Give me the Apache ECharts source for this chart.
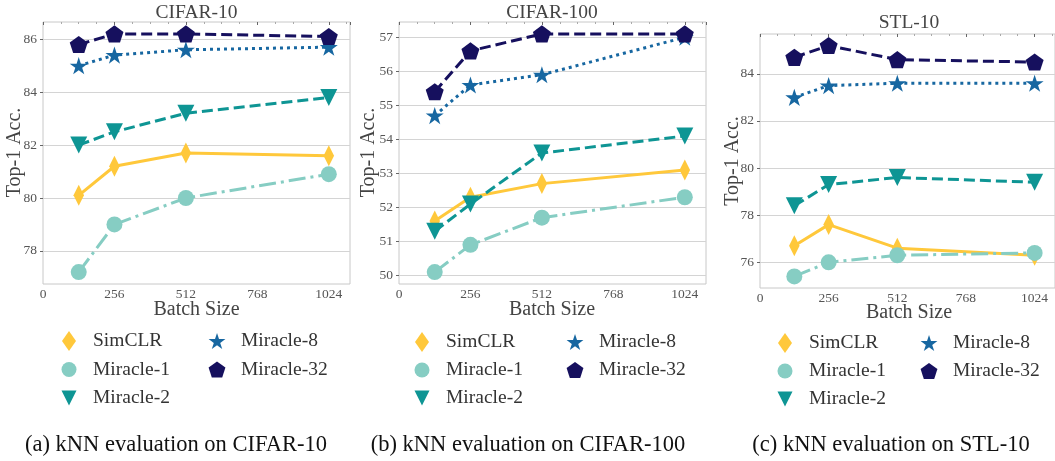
<!DOCTYPE html>
<html>
<head>
<meta charset="utf-8">
<script src="https://cdn.jsdelivr.net/npm/echarts@6/dist/echarts.min.js"></script>
<style>
html,body{margin:0;padding:0;background:#fff;}
#chart{width:1055px;height:461px;}
</style>
</head>
<body>
<div id="chart"></div>
<script>
// ---------- data ----------
const batchSizes = [128, 256, 512, 1024];
const xTickValues = [0, 256, 512, 768, 1024];
const seriesNames = ['SimCLR', 'Miracle-1', 'Miracle-2', 'Miracle-8', 'Miracle-32'];

// CIFAR-10
const c10SimCLR = [80.1, 81.2, 81.7, 81.6];
const c10Miracle1 = [77.2, 79.0, 80.0, 80.9];
const c10Miracle2 = [82.0, 82.5, 83.2, 83.8];
const c10Miracle8 = [85.0, 85.4, 85.6, 85.7];
const c10Miracle32 = [85.8, 86.2, 86.2, 86.1];
const c10YTicks = [78, 80, 82, 84, 86];

// CIFAR-100
const c100SimCLR = [51.6, 52.3, 52.7, 53.1];
const c100Miracle1 = [50.1, 50.9, 51.7, 52.3];
const c100Miracle2 = [51.3, 52.1, 53.6, 54.1];
const c100Miracle8 = [54.7, 55.6, 55.9, 57.0];
const c100Miracle32 = [55.4, 56.6, 57.1, 57.1];
const c100YTicks = [50, 51, 52, 53, 54, 55, 56, 57];

// STL-10
const stlSimCLR = [76.7, 77.6, 76.6, 76.3];
const stlMiracle1 = [75.4, 76.0, 76.3, 76.4];
const stlMiracle2 = [78.4, 79.3, 79.6, 79.4];
const stlMiracle8 = [83.0, 83.5, 83.6, 83.6];
const stlMiracle32 = [84.7, 85.2, 84.6, 84.5];
const stlYTicks = [76, 78, 80, 82, 84];

const panelTitles = ['CIFAR-10', 'CIFAR-100', 'STL-10'];
const captions = ['(a) kNN evaluation on CIFAR-10', '(b) kNN evaluation on CIFAR-100', '(c) kNN evaluation on STL-10'];
const xAxisName = 'Batch Size';
const yAxisName = 'Top-1 Acc.';

// ---------- styles ----------
const FONT = '"Liberation Serif", "Times New Roman", serif';
const diamondPath = 'path://M0,-10 L7,0 L0,10 L-7,0 Z';
const triDownPath = 'path://M-10,-10 L10,-10 L0,10 Z';
const starPath = 'path://M0,-10 L2.245,-3.09 L9.511,-3.09 L3.633,1.18 L5.878,8.09 L0,3.82 L-5.878,8.09 L-3.633,1.18 L-9.511,-3.09 L-2.245,-3.09 Z';
const pentagonPath = 'path://M0,-10 L9.511,-3.09 L5.878,8.09 L-5.878,8.09 L-9.511,-3.09 Z';

const seriesStyle = {
  'SimCLR':     {color: '#FFC83B', dash: 'solid',        symbol: diamondPath,  size: [15, 21], legendH: 20, legendW: 14},
  'Miracle-1':  {color: '#86CDC3', dash: [17, 5, 3, 5],  symbol: 'circle',     size: 16,       legendH: 15, legendW: 15},
  'Miracle-2':  {color: '#0E9594', dash: [11, 5],        symbol: triDownPath,  size: 17,       legendH: 15, legendW: 15},
  'Miracle-8':  {color: '#1767A1', dash: [3, 4],         symbol: starPath,     size: 18,       legendH: 16, legendW: 16.8},
  'Miracle-32': {color: '#16105E', dash: [11, 5],        symbol: pentagonPath, size: 18,       legendH: 16, legendW: 16.8}
};

const panels = [
  {values: [c10SimCLR, c10Miracle1, c10Miracle2, c10Miracle8, c10Miracle32], yTicks: c10YTicks,
   yMin: 76.75, yMax: 86.65, split: 5,
   grid: {left: 43, top: 22, width: 307, height: 262},
   titleXY: [196.5, 12.5], xNameXY: [196.5, 310], yNameXY: [14.5, 152.5], captionXY: [176, 445],
   legendCols: [69, 217], legendRows: [341, 369.5, 398]},
  {values: [c100SimCLR, c100Miracle1, c100Miracle2, c100Miracle8, c100Miracle32], yTicks: c100YTicks,
   yMin: 49.75, yMax: 57.45, split: 8,
   grid: {left: 399, top: 22, width: 307, height: 262},
   titleXY: [552, 12.5], xNameXY: [552, 310], yNameXY: [369, 152.5], captionXY: [528, 445],
   legendCols: [422, 575], legendRows: [342, 370, 398]},
  {values: [stlSimCLR, stlMiracle1, stlMiracle2, stlMiracle8, stlMiracle32], yTicks: stlYTicks,
   yMin: 74.91, yMax: 85.69, split: 5,
   grid: {left: 760, top: 34, width: 298.6, height: 254},
   titleXY: [909, 23.3], xNameXY: [909, 313], yNameXY: [733, 161], captionXY: [891, 445],
   legendCols: [785, 929], legendRows: [343, 371, 399]}
];

// legend placement: [column, row] per series
const legendSlots = [[0, 0], [0, 1], [0, 2], [1, 0], [1, 1]];

const grids = [], xAxes = [], yAxes = [], series = [], legends = [], graphics = [];
const LEG_W = 38, LEG_LINE = 22;
const plainLabel = v => String(v);
const innerTick = {show: true, inside: true, length: 3, lineStyle: {color: '#666', width: 1}};

panels.forEach((p, pi) => {
  grids.push(Object.assign({show: true, borderColor: '#c8c8c8', borderWidth: 1, backgroundColor: '#fff'}, p.grid));
  // main axes (bottom / left)
  xAxes.push({
    gridIndex: pi, type: 'value', min: 0, max: 1100,
    axisLine: {show: false},
    axisTick: {show: false, customValues: xTickValues},
    splitLine: {show: false},
    axisLabel: {customValues: xTickValues, formatter: plainLabel, fontFamily: FONT, fontSize: 13.5, color: '#555', margin: 3}
  });
  yAxes.push({
    gridIndex: pi, type: 'value', min: p.yMin, max: p.yMax, splitNumber: p.split,
    axisLine: {show: false},
    axisTick: {show: false, customValues: p.yTicks},
    splitLine: {show: true, lineStyle: {color: '#d4d4d4', width: 1}},
    axisLabel: {customValues: p.yTicks, formatter: plainLabel, fontFamily: FONT, fontSize: 13.5, color: '#555', margin: 6}
  });
  seriesNames.forEach((name, si) => {
    const st = seriesStyle[name];
    series.push({
      name: name, type: 'line', xAxisIndex: pi, yAxisIndex: pi,
      data: batchSizes.map((b, k) => [b, p.values[si][k]]),
      symbol: st.symbol, symbolSize: st.size, symbolKeepAspect: true, showSymbol: true,
      lineStyle: {color: st.color, width: 3, type: st.dash, cap: 'butt'},
      itemStyle: {color: st.color, borderWidth: 0},
      emphasis: {disabled: true},
      z: 2 + si
    });
    const slot = legendSlots[si];
    const cx = p.legendCols[slot[0]], cy = p.legendRows[slot[1]];
    legends.push({
      data: [{name: name, icon: st.symbol}],
      left: cx - st.legendW / 2, top: cy - LEG_LINE / 2,
      padding: 0, itemWidth: LEG_W, itemHeight: st.legendH,
      selectedMode: false,
      itemStyle: {borderWidth: 0},
      textStyle: {fontFamily: FONT, fontSize: 19.5, color: '#333', lineHeight: LEG_LINE}
    });
  });
  graphics.push({type: 'text', x: p.titleXY[0], y: p.titleXY[1],
    style: {text: panelTitles[pi], font: '19.5px ' + FONT, fill: '#444', align: 'center', verticalAlign: 'middle'}});
  graphics.push({type: 'text', x: p.xNameXY[0], y: p.xNameXY[1],
    style: {text: xAxisName, font: '20px ' + FONT, fill: '#444', align: 'center', verticalAlign: 'middle'}});
  graphics.push({type: 'text', x: p.yNameXY[0], y: p.yNameXY[1], rotation: Math.PI / 2,
    style: {text: yAxisName, font: '20px ' + FONT, fill: '#444', align: 'center', verticalAlign: 'middle'}});
  graphics.push({type: 'text', x: p.captionXY[0], y: p.captionXY[1],
    style: {text: captions[pi], font: '22.5px ' + FONT, fill: '#111', align: 'center', verticalAlign: 'middle'}});
});

// secondary axes: small inward ticks on the top and right spines
panels.forEach((p, pi) => {
  xAxes.push({
    gridIndex: pi, type: 'value', position: 'top', min: 0, max: 1100, interval: 256,
    axisLine: {show: false}, axisLabel: {show: false}, splitLine: {show: false},
    axisTick: innerTick,
    minorTick: {show: true, splitNumber: 4, length: 2, lineStyle: {color: '#aaa', width: 1}}
  });
  yAxes.push({
    gridIndex: pi, type: 'value', position: 'right', min: p.yMin, max: p.yMax, splitNumber: p.split,
    axisLine: {show: false}, axisLabel: {show: false}, splitLine: {show: false},
    axisTick: Object.assign({customValues: p.yTicks}, innerTick)
  });
});

const chart = echarts.init(document.getElementById('chart'), null, {renderer: 'canvas'});
chart.setOption({
  animation: false,
  backgroundColor: '#fff',
  grid: grids, xAxis: xAxes, yAxis: yAxes, series: series, legend: legends,
  graphic: {elements: graphics}
});
</script>
</body>
</html>
